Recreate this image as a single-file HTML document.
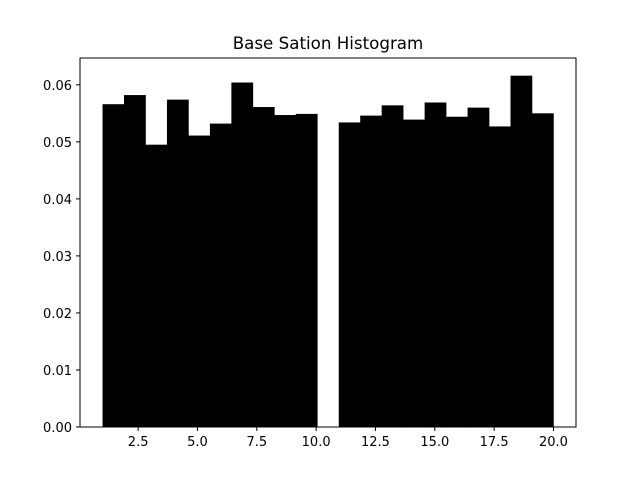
<!DOCTYPE html>
<html><head><meta charset="utf-8"><style>
body{margin:0;background:#fff;}
svg{display:block;font-family:"DejaVu Sans","Liberation Sans",sans-serif;}
</style></head><body>
<svg id="chart" width="640" height="480" viewBox="0 0 640 480">
<rect x="0" y="0" width="640" height="480" fill="#fff"/>
<text x="328" y="49" text-anchor="middle" font-size="16.7">Base Sation Histogram</text>
<g id="bars"></g>
<rect x="80" y="58" width="496" height="369" fill="none" stroke="#000" stroke-width="1"/>
<g id="xt"></g>
<g id="yt"></g>
</svg>
<script>
const binStart = 1, binEnd = 20, binCount = 21;
const densities = [0.0566,0.0582,0.0495,0.0574,0.0511,0.0532,0.0604,0.0561,0.0547,0.0549,0,0.0534,0.0546,0.0564,0.0539,0.0569,0.0544,0.0560,0.0527,0.0616,0.0550];
const xTicks = [2.5,5.0,7.5,10.0,12.5,15.0,17.5,20.0];
const yTicks = [0.00,0.01,0.02,0.03,0.04,0.05,0.06];
const NS="http://www.w3.org/2000/svg";
const L=80,R=576,T=58,B=427;
const xmin=0.05,xmax=20.95,ymax=0.0647;
const X=v=>L+(v-xmin)/(xmax-xmin)*(R-L);
const Y=v=>B-v/ymax*(B-T);
const w=(binEnd-binStart)/binCount;
const bars=document.getElementById('bars');
densities.forEach((d,i)=>{
 if(d<=0)return;
 const r=document.createElementNS(NS,'rect');
 
 
 const x0=X(binStart+i*w),x1=X(binStart+(i+1)*w);
 r.setAttribute('x',x0);r.setAttribute('width',x1-x0+0.3);
 r.setAttribute('y',Y(d));r.setAttribute('height',B-Y(d));
 r.setAttribute('fill','#000');
 bars.appendChild(r);
});
const xt=document.getElementById('xt');
xTicks.forEach(v=>{
 const l=document.createElementNS(NS,'line');
 
 
 l.setAttribute('x1',X(v));l.setAttribute('x2',X(v));l.setAttribute('y1',B);l.setAttribute('y2',B+4);l.setAttribute('stroke','#000');
 xt.appendChild(l);
 const t=document.createElementNS(NS,'text');
 
 
 t.setAttribute('x',X(v));t.setAttribute('y',B+19);t.setAttribute('text-anchor','middle');t.setAttribute('font-size','13');
 t.textContent=v.toFixed(1);xt.appendChild(t);
});
const yt=document.getElementById('yt');
yTicks.forEach(v=>{
 const l=document.createElementNS(NS,'line');
 
 
 l.setAttribute('x1',L-4);l.setAttribute('x2',L);l.setAttribute('y1',Y(v));l.setAttribute('y2',Y(v));l.setAttribute('stroke','#000');
 yt.appendChild(l);
 const t=document.createElementNS(NS,'text');
 
 
 t.setAttribute('x',L-8);t.setAttribute('y',Y(v)+5);t.setAttribute('text-anchor','end');t.setAttribute('font-size','13');
 t.textContent=v.toFixed(2);yt.appendChild(t);
});
</script>
</body></html>
